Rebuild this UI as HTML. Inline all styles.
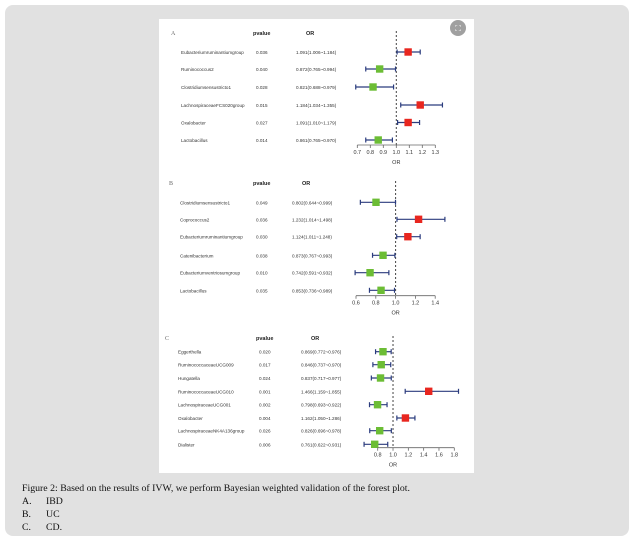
<!DOCTYPE html>
<html><head><meta charset="utf-8"><style>
html,body{margin:0;padding:0;background:#fff;width:639px;height:547px;overflow:hidden}
svg{display:block}
</style></head><body>
<svg width="639" height="547" viewBox="0 0 639 547" xmlns="http://www.w3.org/2000/svg" font-family="Liberation Sans, sans-serif">
<rect x="5" y="5" width="624" height="531" rx="8" fill="#e1e1e1"/>
<rect x="159" y="19" width="315" height="454" fill="#fff"/>
<circle cx="458" cy="28" r="8" fill="#a0a0a0"/>
<text x="458" y="31" font-size="8" fill="#fff" text-anchor="middle">⛶</text>
<g id="plots"></g>
<g font-family="Liberation Serif, serif" font-size="9.8" fill="#111">
<text x="22" y="491" textLength="388" lengthAdjust="spacingAndGlyphs">Figure 2: Based on the results of IVW, we perform Bayesian weighted validation of the forest plot.</text>
<text x="22" y="504">A.</text><text x="46" y="504">IBD</text>
<text x="22" y="517">B.</text><text x="46" y="517">UC</text>
<text x="22" y="530">C.</text><text x="46" y="530">CD.</text>
</g>
</svg>
<script>
const NS="http://www.w3.org/2000/svg";
const g=document.getElementById('plots');
function el(t,a,txt){const e=document.createElementNS(NS,t);for(const k in a)e.setAttribute(k,a[k]);if(txt!==undefined)e.textContent=txt;g.appendChild(e);return e;}
function panel(p){
 el('text',{x:p.lx,y:p.hy,'font-size':6,fill:'#666','font-family':'Liberation Serif, serif'},p.label);
 el('text',{x:p.px,y:p.hy,'font-size':5.5,'font-weight':'bold',fill:'#222'},'pvalue');
 el('text',{x:p.ox+10,y:p.hy,'font-size':5.5,'font-weight':'bold',fill:'#222'},'OR');
 const X=v=>p.x0+(v-p.v0)*p.k;
 el('line',{x1:X(1),x2:X(1),y1:p.hy-4,y2:p.ay,stroke:'#444','stroke-width':1,'stroke-dasharray':'2,2'});
 p.rows.forEach((r,i)=>{
  const y=p.ys[i];
  el('text',{x:p.nx,y:y+2,'font-size':4.6,fill:'#333'},r[0]);
  el('text',{x:p.px+3,y:y+2,'font-size':4.6,fill:'#333'},r[1]);
  el('text',{x:p.ox,y:y+2,'font-size':4.6,fill:'#333'},r[2]+'('+r[3]+'~'+r[4]+')');
  const a=X(r[3]),b=X(r[4]),c=X(r[2]);
  el('line',{x1:a,x2:b,y1:y,y2:y,stroke:'#2b3c7e','stroke-width':1.2});
  el('line',{x1:a,x2:a,y1:y-2.5,y2:y+2.5,stroke:'#2b3c7e','stroke-width':1.2});
  el('line',{x1:b,x2:b,y1:y-2.5,y2:y+2.5,stroke:'#2b3c7e','stroke-width':1.2});
  el('rect',{x:c-3.7,y:y-3.7,width:7.4,height:7.4,fill:r[2]>1?'#e8261f':'#6cbd35'});
 });
 el('line',{x1:X(p.ticks[0]),x2:X(p.ticks[p.ticks.length-1]),y1:p.ay,y2:p.ay,stroke:'#666','stroke-width':0.8});
 p.ticks.forEach(t=>{
  el('line',{x1:X(t),x2:X(t),y1:p.ay,y2:p.ay+3,stroke:'#666','stroke-width':0.8});
  el('text',{x:X(t),y:p.ay+9,'font-size':5.5,fill:'#333','text-anchor':'middle'},t.toFixed(1));
 });
 el('text',{x:X(1),y:p.ay+19,'font-size':5.5,fill:'#333','text-anchor':'middle'},'OR');
}
panel({label:'A',lx:171,hy:35,px:253,ox:296,nx:181,ay:145,x0:357.3,v0:0.7,k:130,ticks:[0.7,0.8,0.9,1.0,1.1,1.2,1.3],
 ys:[52,69,87,105,122.5,140],
 rows:[['Eubacteriumruminantiumgroup','0.036','1.091','1.006','1.184'],['Ruminococcus2','0.040','0.872','0.765','0.994'],['Clostridiumsensustricto1','0.028','0.821','0.688','0.979'],['LachnospiraceaeFCS020group','0.015','1.184','1.034','1.355'],['Oxalobacter','0.027','1.091','1.010','1.179'],['Lactobacillus','0.014','0.861','0.765','0.970']]});
panel({label:'B',lx:169,hy:185,px:253,ox:292,nx:180,ay:295.7,x0:356,v0:0.6,k:99,ticks:[0.6,0.8,1.0,1.2,1.4],
 ys:[202.3,219.3,236.7,255.3,272.7,290.3],
 rows:[['Clostridiumsensustricto1','0.049','0.802','0.644','0.999'],['Coprococcus2','0.036','1.232','1.014','1.498'],['Eubacteriumruminantiumgroup','0.030','1.124','1.011','1.248'],['Catenibacterium','0.038','0.873','0.767','0.993'],['Eubacteriumventriosumgroup','0.010','0.742','0.591','0.932'],['Lactobacillus','0.035','0.853','0.736','0.989']]});
panel({label:'C',lx:165,hy:340,px:256,ox:301,nx:178,ay:447.7,x0:377.7,v0:0.8,k:76.6,ticks:[0.8,1.0,1.2,1.4,1.6,1.8],
 ys:[351.7,364.7,378,391.3,404.7,418,430.7,444.3],
 rows:[['Eggerthella','0.020','0.869','0.772','0.976'],['RuminococcaceaeUCG009','0.017','0.846','0.737','0.970'],['Hungatella','0.024','0.837','0.717','0.977'],['RuminococcaceaeUCG010','0.001','1.466','1.159','1.855'],['LachnospiraceaeUCG001','0.002','0.798','0.693','0.922'],['Oxalobacter','0.004','1.162','1.050','1.286'],['LachnospiraceaeNK4A136group','0.026','0.826','0.696','0.978'],['Dialister','0.006','0.761','0.622','0.931']]});
</script>
</body></html>
